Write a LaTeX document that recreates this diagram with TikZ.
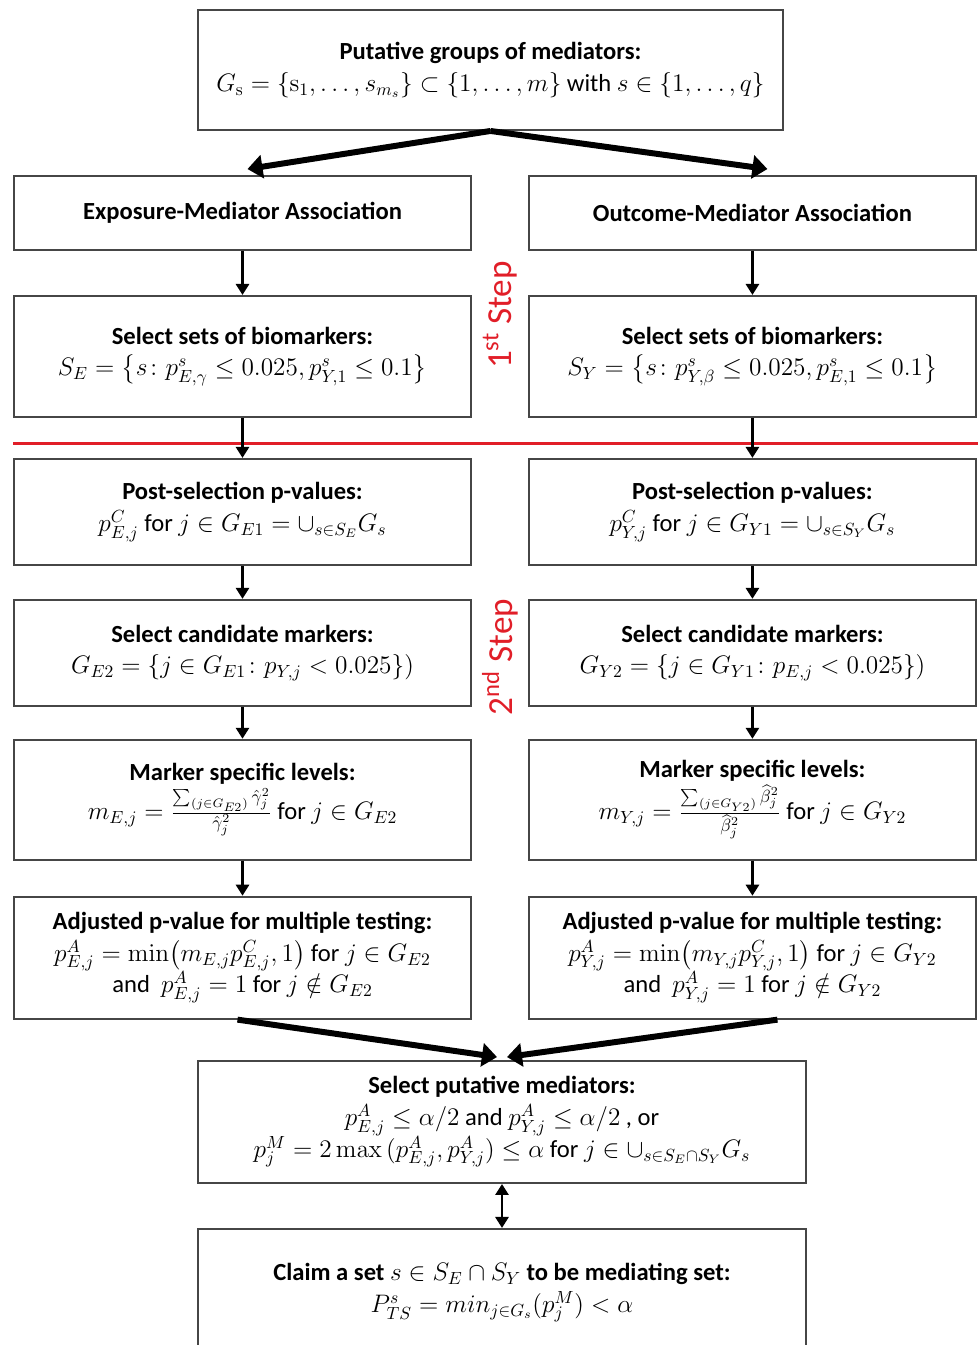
\documentclass[tikz,border=0pt]{standalone}
\usepackage{amsmath,amssymb}
\usepackage[no-math]{fontspec}
\setmainfont{Carlito}
\usepackage{xcolor}
\usepackage{tikz}
\usetikzlibrary{positioning,arrows.meta,calc}
\definecolor{boxgray}{RGB}{70,70,70}
\definecolor{stepred}{RGB}{225,30,40}
\tikzset{
  box/.style={draw=boxgray, line width=1.1pt, align=center, inner sep=2pt,
              font=\fontsize{14}{18}\selectfont},
  leftbox/.style={box, minimum width=9.14cm},
  rightbox/.style={box, minimum width=8.94cm},
  midbox/.style={box, minimum width=12.16cm},
  arrow/.style={-{Triangle[length=2.2mm,width=2.6mm]}, line width=1.7pt},
  bigarrow/.style={-{Triangle[length=3mm,width=4.6mm]}, line width=3.4pt},
  twoarrow/.style={{Triangle[length=2.2mm,width=2.6mm]}-{Triangle[length=2.2mm,width=2.6mm]}, line width=1.7pt},
  steplabel/.style={text=stepred, rotate=90, font=\fontsize{20}{20}\selectfont},
  redline/.style={draw=stepred, line width=1.8pt},
}

\begin{document}
\begin{tikzpicture}[node distance=0.8cm and 1.12cm]
  \useasboundingbox (0,0) rectangle (19.54,-26.9);

  \node[box, minimum width=11.7cm, minimum height=2.4cm] (top) at (9.81,-1.40)
    {\textbf{Putative groups of mediators:}\\
     $G_{\mathrm{s}}=\{\mathrm{s}_1,\dots,s_{m_s}\}\subset\{1,\dots,m\}$ with $s\in\{1,\dots,q\}$};

  % first step
  \node[leftbox, minimum height=1.48cm] (expL) at (4.85,-4.26)
    {\textbf{Exposure-Mediator Association}};
  \node[rightbox, minimum height=1.48cm, right=of expL] (outR)
    {\textbf{Outcome-Mediator Association}};

  \node[leftbox, minimum height=2.42cm, below=0.88cm of expL] (selL)
    {\textbf{Select sets of biomarkers:}\\
     $S_E=\bigl\{s\colon p^s_{E,\gamma}\le 0.025, p^s_{Y,1}\le 0.1\bigr\}$};
  \node[rightbox, minimum height=2.42cm, right=of selL] (selR)
    {\textbf{Select sets of biomarkers:}\\
     $S_Y=\bigl\{s\colon p^s_{Y,\beta}\le 0.025, p^s_{E,1}\le 0.1\bigr\}$};

  % second step
  \node[leftbox, minimum height=2.12cm, below=0.8cm of selL] (postL)
    {\textbf{Post-selection p-values:}\\
     $p^C_{E,j}$ for $j\in G_{E1}=\cup_{s\in S_E}G_s$};
  \node[rightbox, minimum height=2.12cm, right=of postL] (postR)
    {\textbf{Post-selection p-values:}\\
     $p^C_{Y,j}$ for $j\in G_{Y1}=\cup_{s\in S_Y}G_s$};

  \node[leftbox, minimum height=2.12cm, below=0.66cm of postL] (candL)
    {\textbf{Select candidate markers:}\\
     $G_{E2}=\{j\in G_{E1}\colon p_{Y,j}<0.025\})$};
  \node[rightbox, minimum height=2.12cm, right=of candL] (candR)
    {\textbf{Select candidate markers:}\\
     $G_{Y2}=\{j\in G_{Y1}\colon p_{E,j}<0.025\})$};

  \node[leftbox, minimum height=2.4cm, below=0.64cm of candL] (markL)
    {\textbf{Marker specific levels:}\\[1pt]
     $m_{E,j}=\frac{\sum_{(j\in G_{E2})}\hat\gamma_j^2}{\hat\gamma_j^2}$ for $j\in G_{E2}$};
  \node[rightbox, minimum height=2.4cm, right=of markL] (markR)
    {\textbf{Marker specific levels:}\\[1pt]
     $m_{Y,j}=\frac{\sum_{(j\in G_{Y2})}\widehat\beta_j^2}{\widehat\beta_j^2}$ for $j\in G_{Y2}$};

  \node[leftbox, minimum height=2.44cm, below=0.7cm of markL] (adjL)
    {\textbf{Adjusted p-value for multiple testing:}\\
     $p^A_{E,j}=\min\bigl(m_{E,j}p^C_{E,j},1\bigr)$ for $j\in G_{E2}$\\
     and~ $p^A_{E,j}=1$ for $j\notin G_{E2}$};
  \node[rightbox, minimum height=2.44cm, right=of adjL] (adjR)
    {\textbf{Adjusted p-value for multiple testing:}\\
     $p^A_{Y,j}=\min\bigl(m_{Y,j}p^C_{Y,j},1\bigr)$ for $j\in G_{Y2}$\\
     and~ $p^A_{Y,j}=1$ for $j\notin G_{Y2}$};

  % final boxes
  \node[midbox, minimum height=2.44cm] (put) at (10.04,-22.44)
    {\textbf{Select putative mediators:}\\
     $p^A_{E,j}\le\alpha/2$ and $p^A_{Y,j}\le\alpha/2$ , or\\
     $p^M_j=2\max\,(p^A_{E,j},p^A_{Y,j})\le\alpha$ for $j\in\cup_{s\in S_E\cap S_Y}G_s$};
  \node[midbox, minimum height=2.56cm, below=0.88cm of put] (claim)
    {\textbf{Claim a set} $s\in S_E\cap S_Y$ \textbf{to be mediating set:}\\
     $P^s_{TS}=min_{j\in G_s}(p^M_j)<\alpha$};

  % step divider and labels
  \draw[redline] ($(selL.south west)!0.65!(postL.north west)$)
              -- ($(selR.south east)!0.65!(postR.north east)+(0.3,0)$);
  \node[steplabel] (step1) at (10.0,-6.3) {1\textsuperscript{st} Step};
  \node[steplabel] (step2) at (10.0,-13.14) {2\textsuperscript{nd} Step};

  % connectors
  \draw[bigarrow] (top.south) -- ([xshift=1mm,yshift=1.2mm]expL.north);
  \draw[bigarrow] (top.south) -- ([xshift=3mm,yshift=1.2mm]outR.north);
  \draw[arrow] (expL) -- (selL); \draw[arrow] (outR) -- (selR);
  \draw[arrow] (selL) -- (postL); \draw[arrow] (selR) -- (postR);
  \draw[arrow] (postL) -- (candL); \draw[arrow] (postR) -- (candR);
  \draw[arrow] (candL) -- (markL); \draw[arrow] (candR) -- (markR);
  \draw[arrow] (markL) -- (adjL); \draw[arrow] (markR) -- (adjR);
  \draw[bigarrow] ([xshift=-1mm]adjL.south) -- ([xshift=-1mm,yshift=0.6mm]put.north);
  \draw[bigarrow] ([xshift=5mm]adjR.south) -- ([xshift=1mm,yshift=0.6mm]put.north);
  \draw[twoarrow] (put) -- (claim);
\end{tikzpicture}
\end{document}
